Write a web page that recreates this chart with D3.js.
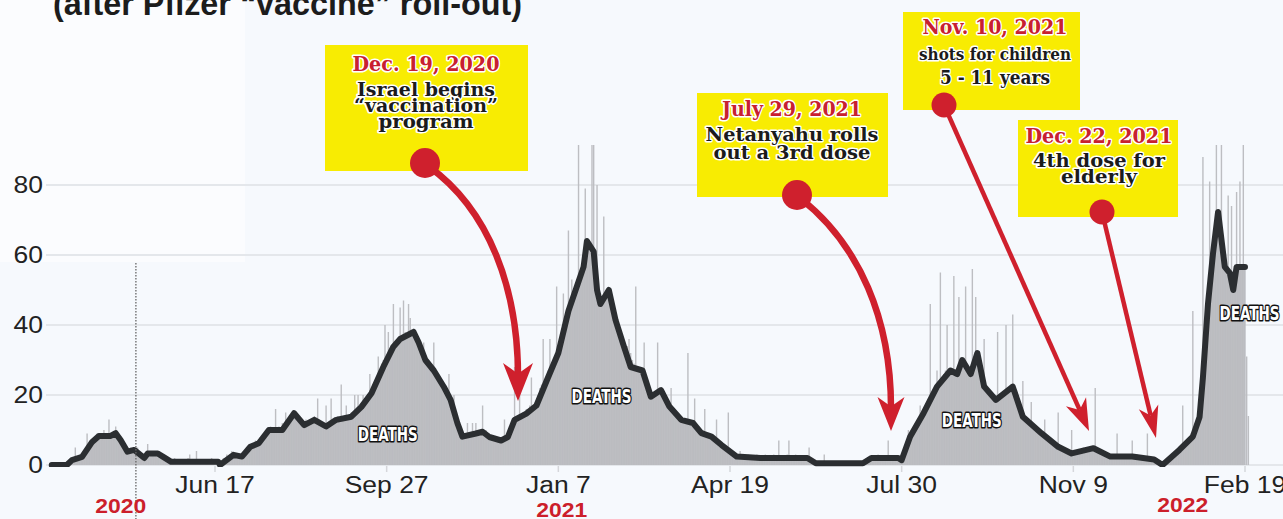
<!DOCTYPE html>
<html><head><meta charset="utf-8">
<script src="https://cdn.jsdelivr.net/npm/d3@7"></script>
<style>
html,body{margin:0;padding:0;background:#f7fafd;}
svg{display:block;}
</style></head><body>
<svg id="c" width="1283" height="519"></svg>
<script>
// ---------------- DATA ----------------
const startDate = "2020-03-12";           // first day of the daily series
// Daily deaths (one value per day, rows = weeks)
const dailyDeaths = [
0,0,0,0,0,0,0, 0,0,1,0,1,2,1, 5,2,1,3,2,3,4, 9,5,6,7,6,8,9, 8,9,7,10,8,9,13,
9,8,7,11,9,8,6, 5,4,3,4,4,5,4, 4,3,5,3,2,3,2, 3,6,3,4,2,3,3, 3,4,2,3,1,2,1,
1,1,0,2,1,1,0, 1,0,1,1,2,3,1, 1,1,4,1,0,1,1, 1,0,1,1,2,1,1, 1,0,0,1,2,2,3,
2,3,4,3,2,3,2, 3,2,3,4,5,5,6, 5,6,7,6,5,8,6, 7,9,10,9,11,10,9, 16,10,11,9,12,10,15,
12,13,11,14,15,13,14, 13,12,11,12,13,11,12, 12,13,14,12,19,13,12, 11,12,17,11,10,19,12, 13,12,14,13,23,12,13,
17,14,13,15,14,20,15, 20,16,17,20,18,17,19, 26,22,23,24,25,31,27, 29,30,40,31,38,33,32, 46,35,34,36,45,37,47,
38,37,46,42,38,39,37, 36,35,33,32,35,30,29, 29,28,27,35,26,25,24, 23,22,21,20,19,26,18, 17,20,15,12,10,9,8,
8,9,12,8,9,12,9, 12,9,10,9,17,9,10, 8,9,8,7,8,7,6, 7,8,7,13,8,8,9, 11,12,28,13,14,26,14,
15,14,16,15,17,25,16, 17,18,20,22,23,36,24, 25,27,36,28,30,31,51, 33,36,38,49,40,42,67, 46,53,48,50,52,95,54,
57,60,79,63,64,62,95, 92,55,80,50,47,46,71, 48,50,49,47,45,43,41, 40,38,37,36,35,34,34, 36,32,30,29,51,28,28,
27,27,35,25,23,21,19, 20,20,21,35,21,21,20, 19,18,17,17,22,16,15, 15,14,14,13,13,12,13, 32,12,12,12,19,11,10,
9,9,10,16,9,8,8, 8,8,7,13,7,6,6, 5,5,4,15,3,3,3, 2,3,2,4,2,2,2, 2,3,2,1,2,2,3,
2,2,1,2,3,2,2, 2,2,3,2,1,7,2, 2,1,2,3,7,2,2, 2,3,2,2,1,2,2, 2,2,5,2,1,1,0,
1,0,1,0,3,1,0, 0,1,0,1,0,0,1, 0,0,1,0,1,0,0, 1,0,0,1,0,1,1, 1,1,2,2,1,2,2,
2,3,2,1,2,2,2, 7,2,2,1,2,2,2, 1,2,3,4,6,10,8, 9,10,11,12,13,17,14, 15,16,18,19,46,20,21,
22,27,24,55,25,26,27, 40,27,26,27,54,26,26, 48,28,29,30,51,28,27, 26,56,28,48,31,32,30, 27,36,23,22,21,20,19,
19,19,38,20,20,21,21, 40,22,22,23,43,21,19, 18,17,16,24,14,13,13, 12,18,12,11,11,10,10, 9,9,13,8,8,7,7,
6,6,5,15,5,4,4, 4,3,3,3,10,3,3, 3,4,4,3,5,4,4, 5,4,5,5,22,4,4, 4,3,3,3,3,2,2,
2,3,2,9,2,3,2, 2,3,2,2,3,7,2, 2,3,2,2,1,2,2, 9,2,1,2,1,2,1, 1,0,0,1,1,2,2,
2,3,3,4,3,4,5, 17,5,6,7,8,9,44, 10,11,12,13,20,88,30, 40,46,81,55,60,65,95, 72,68,95,62,58,57,77,
55,74,50,52,78,56,81, 57,95,56,31,14
];
// 7-day average line: day offsets from startDate and values
const avgDays = [0,9,12,18,24,28,35,38,41,45,49,55,57,63,66,71,99,100,108,113,118,123,129,137,144,150,156,163,169,178,184,190,197,203,207,215,218,222,227,233,237,241,244,252,256,260,267,271,275,282,288,294,301,307,312,316,318,322,324,326,331,335,340,344,351,356,362,367,374,381,386,392,398,407,421,436,449,454,461,482,487,503,505,510,518,526,534,538,541,546,550,554,561,571,577,588,598,606,619,629,642,655,660,670,678,682,684,687,690,693,697,700,702,704,709];
const avgValues = [0,0,1.4,2.3,6.6,8.3,8.3,9.1,7.1,3.8,4.3,2.0,3.3,3.3,2.4,0.9,0.9,0,2.9,2.4,5.2,6.2,10,10,14.8,11.4,12.9,11,12.9,13.8,16.6,20.5,28,33.8,36,38,35,30,27,22.3,18.6,12,8.1,9,9.5,8,7,8,12.9,14.7,17,24,32,44,51,56.6,64,61,50,46,50,41.4,33.8,28,27,19.5,21.4,16.7,12.9,12,9.1,8.1,5.7,2.4,2,2,2,0.5,0.5,0.5,2,2,1.4,8.1,14.8,22.4,27,26,30,26,32,22.4,18.6,22.4,13.8,9.1,5.2,3.3,4.8,2.4,2.4,1.6,0,4.3,8.1,13.7,25,46,60.5,72.3,56.6,54.8,50,56.6,56.6];

const yTicks = [0, 20, 40, 60, 80];
const xTickDates = ["2020-06-17","2020-09-27","2021-01-07","2021-04-19","2021-07-30","2021-11-09","2022-02-19"];
const xTickLabels = ["Jun 17","Sep 27","Jan 7","Apr 19","Jul 30","Nov 9","Feb 19"];
const yearLabels = ["2020","2021","2022"];
const yearLabelDates = ["2020-04-22","2021-01-09","2022-01-13"];
const yearMarkerDate = "2020-05-01";
const seriesLabel = "DEATHS";
const seriesLabelDates = ["2020-09-28","2021-02-02","2021-09-10","2022-02-22"];
const seriesLabelValues = [9, 19.9, 13, 43.6];
const titleText = "(after Pfizer “vaccine” roll-out)";
const notes = [
  {date:"Dec. 19, 2020", lines:["Israel begins","“vaccination”","program"]},
  {date:"July 29, 2021", lines:["Netanyahu rolls","out a 3rd dose"]},
  {date:"Nov. 10, 2021", lines:["shots for children","5 - 11 years"]},
  {date:"Dec. 22, 2021", lines:["4th dose for","elderly"]}
];

// ---------------- LAYOUT ----------------
const W = 1283, H = 519;
const svg = d3.select("#c");
const parse = d3.utcParse("%Y-%m-%d");
const t0 = parse(startDate);
const x = d3.scaleUtc().domain([parse("2020-06-17"), parse("2022-02-19")]).range([215, 1245]);
const y = d3.scaleLinear().domain([0, 80]).range([465, 185]);
const dayDate = i => d3.utcDay.offset(t0, i);

svg.append("rect").attr("width", W).attr("height", H).attr("fill", "#f6f9fd");
svg.append("rect").attr("width", 245).attr("height", 262).attr("fill", "#fbfcfe");

const defs = svg.append("defs");
defs.append("clipPath").attr("id","plot").append("rect")
  .attr("x", 40).attr("y", 145).attr("width", W - 40).attr("height", 322);

// gridlines
svg.append("g").selectAll("line").data(yTicks).join("line")
  .attr("x1", 46).attr("x2", W).attr("y1", d => y(d)).attr("y2", d => y(d))
  .attr("stroke", "#e4e7eb").attr("stroke-width", 2);

// x ticks marks
svg.append("g").selectAll("line").data(xTickDates).join("line")
  .attr("x1", d => x(parse(d))).attr("x2", d => x(parse(d)))
  .attr("y1", 466).attr("y2", 472).attr("stroke", "#d5d7db").attr("stroke-width", 1.5);

const plot = svg.append("g").attr("clip-path", "url(#plot)");

// average area
const avgData = avgDays.map((d, i) => ({date: dayDate(d), v: avgValues[i]}));
plot.append("path").datum(avgData)
  .attr("d", d3.area().x(d => x(d.date)).y0(y(0)).y1(d => y(d.v)))
  .attr("fill", "#b9babe");

// daily bars
const bw = 1.4;
plot.append("g").selectAll("rect").data(dailyDeaths).join("rect")
  .attr("x", (d, i) => x(dayDate(i)) - bw / 2)
  .attr("width", bw)
  .attr("y", d => y(d))
  .attr("height", d => y(0) - y(d))
  .attr("fill", "#bdbec2");

// dotted year marker
svg.append("line")
  .attr("x1", x(parse(yearMarkerDate))).attr("x2", x(parse(yearMarkerDate)))
  .attr("y1", 263).attr("y2", H)
  .attr("stroke", "#666").attr("stroke-width", 1.3).attr("stroke-dasharray", "1.5,1.5");

// average line
plot.append("path").datum(avgData)
  .attr("d", d3.line().x(d => x(d.date)).y(d => y(d.v)))
  .attr("fill", "none").attr("stroke", "#2b2e31").attr("stroke-width", 6)
  .attr("stroke-linejoin", "round").attr("stroke-linecap", "round");

// DEATHS labels
seriesLabelDates.forEach((d, i) => {
  svg.append("text")
    .attr("x", x(parse(d)) - 30.5).attr("y", y(seriesLabelValues[i]) + 7.5)
    .attr("textLength", 60).attr("lengthAdjust", "spacingAndGlyphs")
    .style("font-family", "'DejaVu Sans Condensed','DejaVu Sans',sans-serif")
    .style("font-weight", "bold").style("font-size", "20px")
    .attr("fill", "#fff").attr("stroke", "#111").attr("stroke-width", 3)
    .attr("stroke-linejoin", "round").style("paint-order", "stroke fill")
    .text(seriesLabel);
});

// y labels
svg.append("g").selectAll("text").data(yTicks).join("text")
  .attr("x", 43).attr("y", d => y(d) + 8).attr("text-anchor", "end")
  .style("font-family", "'Liberation Sans',Arial,sans-serif").style("font-size", "23px")
  .attr("fill", "#222").text(d => d)
  .each(function(){ const w = this.getComputedTextLength(); d3.select(this).attr("textLength", w * 1.15).attr("lengthAdjust","spacingAndGlyphs"); });

// x labels
svg.append("g").selectAll("text").data(xTickDates).join("text")
  .attr("x", d => x(parse(d))).attr("y", 493).attr("text-anchor", "middle")
  .style("font-family", "'Liberation Sans',Arial,sans-serif").style("font-size", "23px")
  .attr("fill", "#222").text((d, i) => xTickLabels[i])
  .each(function(){ const w = this.getComputedTextLength(); d3.select(this).attr("textLength", w * 1.15).attr("lengthAdjust","spacingAndGlyphs"); });

// year labels
const yearBase = [513, 517, 512];
svg.append("g").selectAll("text").data(yearLabels).join("text")
  .attr("x", (d, i) => x(parse(yearLabelDates[i])) - 25.5).attr("y", (d, i) => yearBase[i])
  .attr("textLength", 51).attr("lengthAdjust", "spacingAndGlyphs")
  .style("font-family", "'Liberation Sans',Arial,sans-serif").style("font-weight", "bold").style("font-size", "20px")
  .attr("fill", "#cc1f2b").text(d => d);

// title (cut off at the top)
svg.append("text").attr("x", 53).attr("y", 15)
  .attr("textLength", 469).attr("lengthAdjust", "spacingAndGlyphs")
  .style("font-family", "'Liberation Sans',Arial,sans-serif").style("font-weight", "bold").style("font-size", "33px")
  .attr("fill", "#1c1c1c").text(titleText);

// ---------------- ANNOTATIONS ----------------
const noteLayout = [
  {box:[325,45,203,126], cx:426, dot:[425,163,15], base:[71,96,112,128], widths:[147,138,144,95], fs:[20,18,18,18]},
  {box:[697,93,191,104], cx:792, dot:[797,195,15], base:[116,141,159], widths:[140,173,157], fs:[20,19,19]},
  {box:[903,12,177,98],  cx:995, dot:[944,105,12.5], base:[34,60,84], widths:[145,152,110], fs:[20,17,19]},
  {box:[1018,120,160,97], cx:1099, dot:[1102,212,12.5], base:[143,167,183], widths:[147,132,76], fs:[20,18,18]}
];
const red = "#cf202d";
const gA = svg.append("g");
noteLayout.forEach(l => {
  gA.append("rect").attr("x", l.box[0]).attr("y", l.box[1]).attr("width", l.box[2]).attr("height", l.box[3]).attr("fill", "#f8ec02");
});

function head(tip, ang, L, Wd) {
  const c = Math.cos(ang), s = Math.sin(ang);
  const bx = tip[0] - L * c, by = tip[1] - L * s;
  const px = -s, py = c;
  const nx = tip[0] - 0.72 * L * c, ny = tip[1] - 0.72 * L * s;
  return `M${tip[0]},${tip[1]}L${bx + px*Wd/2},${by + py*Wd/2}L${nx},${ny}L${bx - px*Wd/2},${by - py*Wd/2}Z`;
}
// curved arrows
const curves = [
  {d:"M428,166 C490,210 518,290 518,376", tip:[518,401], ang:Math.PI/2, L:38, W:30, sw:6.5},
  {d:"M800,198 C860,245 891,320 891,408", tip:[891,431], ang:Math.PI/2, L:34, W:27, sw:6.5}
];
curves.forEach(c => {
  gA.append("path").attr("d", c.d).attr("fill","none").attr("stroke", red).attr("stroke-width", c.sw);
  gA.append("path").attr("d", head(c.tip, c.ang, c.L, c.W)).attr("fill", red);
});
// straight arrows
const straights = [
  {from:[944,105], tip:[1089,431], L:32, W:22, sw:4.5},
  {from:[1102,212], tip:[1156,438], L:32, W:20, sw:4.5}
];
straights.forEach(s => {
  const ang = Math.atan2(s.tip[1]-s.from[1], s.tip[0]-s.from[0]);
  const nx = s.tip[0] - 0.72*s.L*Math.cos(ang), ny = s.tip[1] - 0.72*s.L*Math.sin(ang);
  gA.append("line").attr("x1", s.from[0]).attr("y1", s.from[1]).attr("x2", nx).attr("y2", ny)
    .attr("stroke", red).attr("stroke-width", s.sw);
  gA.append("path").attr("d", head(s.tip, ang, s.L, s.W)).attr("fill", red);
});
noteLayout.forEach(l => {
  gA.append("circle").attr("cx", l.dot[0]).attr("cy", l.dot[1]).attr("r", l.dot[2]).attr("fill", red);
});
notes.forEach((n, i) => {
  const l = noteLayout[i];
  const all = [n.date].concat(n.lines);
  all.forEach((t, j) => {
    gA.append("text")
      .attr("x", l.cx - l.widths[j] / 2).attr("y", l.base[j])
      .attr("textLength", l.widths[j]).attr("lengthAdjust", "spacingAndGlyphs")
      .style("font-family", "'DejaVu Serif','Liberation Serif',serif").style("font-weight", "bold")
      .style("font-size", l.fs[j] + "px")
      .attr("fill", j === 0 ? "#c8202f" : "#1b1b1b")
      .attr("stroke", "#fff").attr("stroke-width", 3).attr("stroke-linejoin", "round")
      .style("paint-order", "stroke fill")
      .text(t);
  });
});
</script>
</body></html>
